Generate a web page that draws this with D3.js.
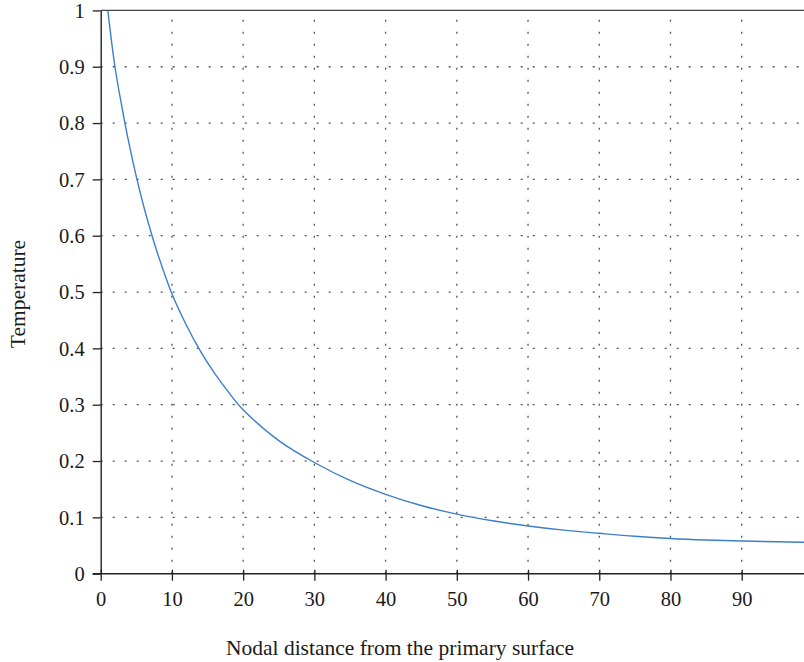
<!DOCTYPE html>
<html>
<head>
<meta charset="utf-8">
<script src="https://cdn.jsdelivr.net/npm/d3@7"></script>
<style>
  html, body { margin: 0; padding: 0; background: #fff; }
  svg { display: block; }
  text { font-family: "Liberation Serif", "DejaVu Serif", serif; fill: #1a1a1a; }
</style>
</head>
<body>
<svg id="chart" width="804" height="662"></svg>
<script>
// Nodal distance (node index) and the temperature at that node
const nodes = [1, 2, 3, 4, 5, 6, 7, 8, 10, 12, 14, 16, 18, 20, 25, 30, 35, 40, 45, 50,
               55, 60, 65, 70, 75, 80, 85, 90, 95, 99];
const temperature = [1.0, 0.90, 0.827, 0.762, 0.705, 0.654, 0.609, 0.568, 0.497, 0.442,
                     0.395, 0.3555, 0.3214, 0.291, 0.2363, 0.1974, 0.1656, 0.1409, 0.121, 0.1057,
                     0.0939, 0.0847, 0.0773, 0.0717, 0.0665, 0.0625, 0.0598, 0.058, 0.0567, 0.0557];
const xTicks = [0, 10, 20, 30, 40, 50, 60, 70, 80, 90];
const yTicks = [0, 0.1, 0.2, 0.3, 0.4, 0.5, 0.6, 0.7, 0.8, 0.9, 1];

const svg = d3.select("#chart");
const x = d3.scaleLinear().domain([0, 99]).range([100.7, 805.8]);
const y = d3.scaleLinear().domain([0, 1]).range([573.7, 10.4]);

// dotted grid
const grid = svg.append("g")
  .attr("stroke", "#555")
  .attr("stroke-width", 1.3)
  .attr("stroke-dasharray", "2,10");
grid.selectAll("line.v").data(xTicks.filter(d => d > 0)).join("line")
  .attr("class", "v")
  .attr("x1", d => x(d)).attr("x2", d => x(d))
  .attr("y1", y(0)).attr("y2", y(1));
grid.selectAll("line.h").data(yTicks.filter(d => d > 0 && d < 1)).join("line")
  .attr("class", "h")
  .attr("x1", x(0)).attr("x2", 804)
  .attr("y1", d => y(d)).attr("y2", d => y(d));

// top frame line
svg.append("line")
  .attr("x1", x(0)).attr("x2", 804)
  .attr("y1", y(1)).attr("y2", y(1))
  .attr("stroke", "#444").attr("stroke-width", 1.3);

// temperature curve
const line = d3.line()
  .x((d, i) => x(nodes[i]))
  .y(d => y(d))
  .curve(d3.curveCatmullRom.alpha(0.5));
svg.append("path")
  .datum(temperature)
  .attr("d", line)
  .attr("fill", "none")
  .attr("stroke", "#3d7ecb")
  .attr("stroke-width", 1.4);

// x axis
const xAxis = svg.append("g")
  .attr("transform", `translate(0,${y(0)})`)
  .call(d3.axisBottom(x).tickValues(xTicks).tickFormat(d3.format("d")).tickSize(7).tickSizeOuter(0));
xAxis.select(".domain").attr("stroke", "#222").attr("stroke-width", 1.4).attr("d", `M${x(0) - 8},0H804`);
xAxis.selectAll(".tick line").attr("stroke", "#222").attr("stroke-width", 1.3).attr("y1", -4);
xAxis.selectAll(".tick text")
  .attr("font-family", "Liberation Serif, DejaVu Serif, serif")
  .attr("font-size", 20.5).attr("fill", "#1a1a1a").attr("dy", null).attr("y", 32);

// y axis
const yAxis = svg.append("g")
  .attr("transform", `translate(${x(0)},0)`)
  .call(d3.axisLeft(y).tickValues(yTicks).tickFormat(d => d3.format("")(+d.toFixed(1))).tickSize(8).tickSizeOuter(0));
yAxis.select(".domain").attr("stroke", "#222").attr("stroke-width", 1.4);
yAxis.selectAll(".tick line").attr("stroke", "#222").attr("stroke-width", 1.3);
yAxis.selectAll(".tick text")
  .attr("font-family", "Liberation Serif, DejaVu Serif, serif")
  .attr("font-size", 20.5).attr("fill", "#1a1a1a").attr("x", -16).attr("dy", "0.33em");

// axis titles
svg.append("text")
  .attr("x", 400).attr("y", 655)
  .attr("text-anchor", "middle")
  .attr("font-size", 21.5)
  .text("Nodal distance from the primary surface");
svg.append("text")
  .attr("transform", "translate(24.5,294) rotate(-90)")
  .attr("text-anchor", "middle")
  .attr("font-size", 21.5)
  .text("Temperature");
</script>
</body>
</html>
